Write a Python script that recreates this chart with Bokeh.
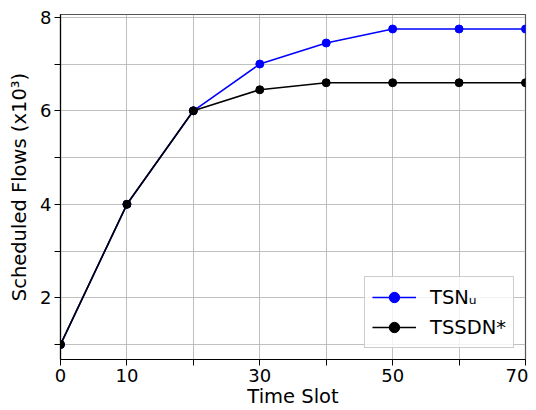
from bokeh.plotting import figure
from bokeh.models import FixedTicker, Legend, LegendItem, Range1d
from bokeh.embed import file_html
from bokeh.resources import INLINE

time_slots = [0, 10, 20, 30, 40, 50, 60, 70]
tsn_u = [1.0, 4.0, 6.0, 7.0, 7.45, 7.75, 7.75, 7.75]
tssdn = [1.0, 4.0, 6.0, 6.45, 6.6, 6.6, 6.6, 6.6]
x_ticks = [0, 10, 20, 30, 40, 50, 60, 70]
x_labels = {0: "0", 10: "10", 20: "", 30: "30", 40: "", 50: "50", 60: "", 70: "70"}
y_ticks = [1, 2, 3, 4, 5, 6, 7, 8]
y_labels = {1: "", 2: "2", 3: "", 4: "4", 5: "", 6: "6", 7: "", 8: "8"}

FONT = "DejaVu Sans"

p = figure(width=528, height=410, output_backend="svg", toolbar_location=None,
           x_range=Range1d(0, 70), y_range=Range1d(0.68, 8.06),
           min_border_left=60, min_border_right=3, min_border_top=14, min_border_bottom=50)

r1 = p.line(time_slots, tsn_u, line_color="#0000ff", line_width=1.6)
c1 = p.scatter(time_slots, tsn_u, size=8, fill_color="#0000ff", line_color="#0000ff")
r2 = p.line(time_slots, tssdn, line_color="#000000", line_width=1.6)
c2 = p.scatter(time_slots, tssdn, size=8, fill_color="#000000", line_color="#000000")

p.xaxis.ticker = FixedTicker(ticks=x_ticks)
p.xaxis.major_label_overrides = x_labels
p.yaxis.ticker = FixedTicker(ticks=y_ticks)
p.yaxis.major_label_overrides = y_labels

for ax in (p.xaxis, p.yaxis):
    ax.major_label_text_font = FONT
    ax.major_label_text_font_size = "18px"
    ax.major_label_text_color = "black"
    ax.axis_label_text_font = FONT
    ax.axis_label_text_font_size = "19.5px"
    ax.axis_label_text_font_style = "normal"
    ax.axis_label_text_color = "black"
    ax.axis_line_color = "black"
    ax.axis_line_width = 1.2
    ax.major_tick_line_color = "black"
    ax.major_tick_out = 6
    ax.major_tick_in = 0
    ax.minor_tick_line_color = None
    ax.major_label_standoff = 3

p.xaxis.axis_label = "Time Slot"
p.yaxis.axis_label = "Scheduled Flows (x10³)"
p.xaxis.axis_label_standoff = 0
p.yaxis.axis_label_standoff = 6

p.xgrid.ticker = FixedTicker(ticks=x_ticks)
p.ygrid.ticker = FixedTicker(ticks=y_ticks)
p.grid.grid_line_color = "#b0b0b0"
p.grid.grid_line_alpha = 0.8
p.grid.grid_line_width = 1

p.outline_line_color = "#555555"
p.outline_line_width = 1.2
p.background_fill_color = "white"
p.border_fill_color = "white"

legend = Legend(items=[LegendItem(label="TSNᵤ", renderers=[r1, c1]),
                       LegendItem(label="TSSDN*", renderers=[r2, c2])],
                location="bottom_right")
legend.label_text_font = FONT
legend.label_text_font_size = "19.5px"
legend.label_text_color = "black"
legend.border_line_color = "#cccccc"
legend.border_line_alpha = 1
legend.background_fill_alpha = 0.8
legend.glyph_width = 44
legend.glyph_height = 26
legend.label_height = 26
legend.spacing = 4
legend.padding = 7
legend.margin = 11
legend.label_standoff = 14
p.add_layout(legend)

open("out.html", "w").write(file_html(p, INLINE))
